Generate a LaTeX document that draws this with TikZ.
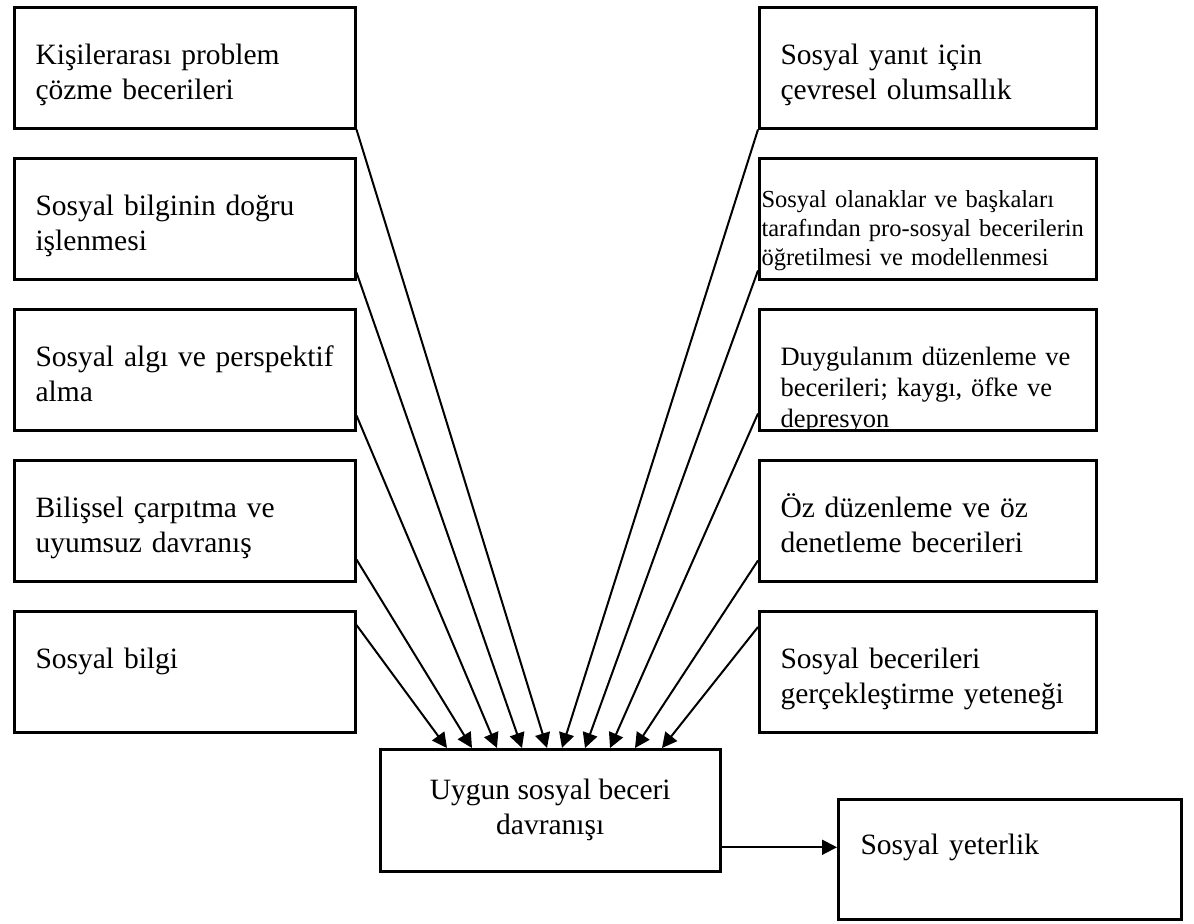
\documentclass[tikz,border=0pt]{standalone}
\usepackage{fontspec}
\setmainfont{Liberation Serif}
\usetikzlibrary{arrows.meta}
\newcommand{\normtxt}{\fontsize{11.8pt}{14pt}\selectfont}
\newcommand{\smalltxt}{\fontsize{9.8pt}{11.6pt}\selectfont}
\newcommand{\midtxt}{\fontsize{10.6pt}{12.4pt}\selectfont}

\begin{document}
\begin{tikzpicture}
[x=0.4pt,y=-0.4pt,
 box node/.style={draw,line width=1pt,anchor=north west,minimum width=136.4pt,minimum height=48.4pt,inner sep=0pt},
 text node/.style={anchor=base west,text width=132pt,align=left,inner sep=0pt,font=\normtxt},
 arr/.style={line width=0.8pt,-{Triangle[length=6pt,width=6pt]}}]
\useasboundingbox (0,0) rectangle (1194,923);
% left column
\node[box node] (l1) at (13,6) {};
\node[box node] (l2) at (13,157) {};
\node[box node] (l3) at (13,308) {};
\node[box node] (l4) at (13,459) {};
\node[box node] (l5) at (13,610) {};
\node[text node] (tl1) at (35,64) {Kişilerarası problem\\çözme becerileri};
\node[text node] (tl2) at (35,215) {Sosyal bilginin doğru\\işlenmesi};
\node[text node] (tl3) at (35,366) {Sosyal algı ve perspektif\\alma};
\node[text node] (tl4) at (35,517) {Bilişsel çarpıtma ve\\uyumsuz davranış};
\node[text node] (tl5) at (35,668) {Sosyal bilgi};
% right column
\node[box node,minimum width=134.8pt] (r1) at (758,6) {};
\node[box node,minimum width=134.8pt] (r2) at (758,157) {};
\node[box node,minimum width=134.8pt] (r3) at (758,308) {};
\node[box node,minimum width=134.8pt] (r4) at (758,459) {};
\node[box node,minimum width=134.8pt] (r5) at (758,610) {};
\node[text node] (tr1) at (780,64) {Sosyal yanıt için\\çevresel olumsallık};
\node[text node,font=\smalltxt] (tr2) at (761,207) {Sosyal olanaklar ve başkaları\\tarafından pro-sosyal becerilerin\\öğretilmesi ve modellenmesi};
\begin{scope}
\clip (r3.south west) rectangle (r3.north east);
\node[text node,font=\midtxt] (tr3) at (780,365) {Duygulanım düzenleme ve\\becerileri; kaygı, öfke ve\\depresyon};
\end{scope}
\node[text node] (tr4) at (780,517) {Öz düzenleme ve öz\\denetleme becerileri};
\node[text node] (tr5) at (780,668) {Sosyal becerileri\\gerçekleştirme yeteneği};
% bottom
\node[box node,minimum width=136pt,minimum height=48.8pt,align=center,font=\normtxt] (d) at (379,748) {Uygun sosyal beceri\\davranışı};
\node[box node,minimum width=137.2pt,minimum height=48pt] (y) at (837,798) {};
\node[text node] (ty) at (860,854) {Sosyal yeterlik};
\path
(l1.south east) edge[arr] ([xshift=67.2pt]d.north west)
([yshift=3.2pt]l2.south east) edge[arr] ([xshift=57.2pt]d.north west)
([yshift=6.4pt]l3.south east) edge[arr] ([xshift=47.2pt]d.north west)
([yshift=9.2pt]l4.south east) edge[arr] ([xshift=37.2pt]d.north west)
([yshift=-6pt]l5.north east) edge[arr] ([xshift=27.2pt]d.north west)
(r1.south west) edge[arr] ([xshift=73.2pt]d.north west)
([yshift=4pt]r2.south west) edge[arr] ([xshift=82.4pt]d.north west)
([yshift=7.2pt]r3.south west) edge[arr] ([xshift=92.4pt]d.north west)
([yshift=8.8pt]r4.south west) edge[arr] ([xshift=102.4pt]d.north west)
([yshift=-6.8pt]r5.north west) edge[arr] ([xshift=113.2pt]d.north west)
([yshift=-14.8pt]d.east) edge[arr] ([yshift=-14.8pt]d.east -| y.west);
\end{tikzpicture}
\end{document}
